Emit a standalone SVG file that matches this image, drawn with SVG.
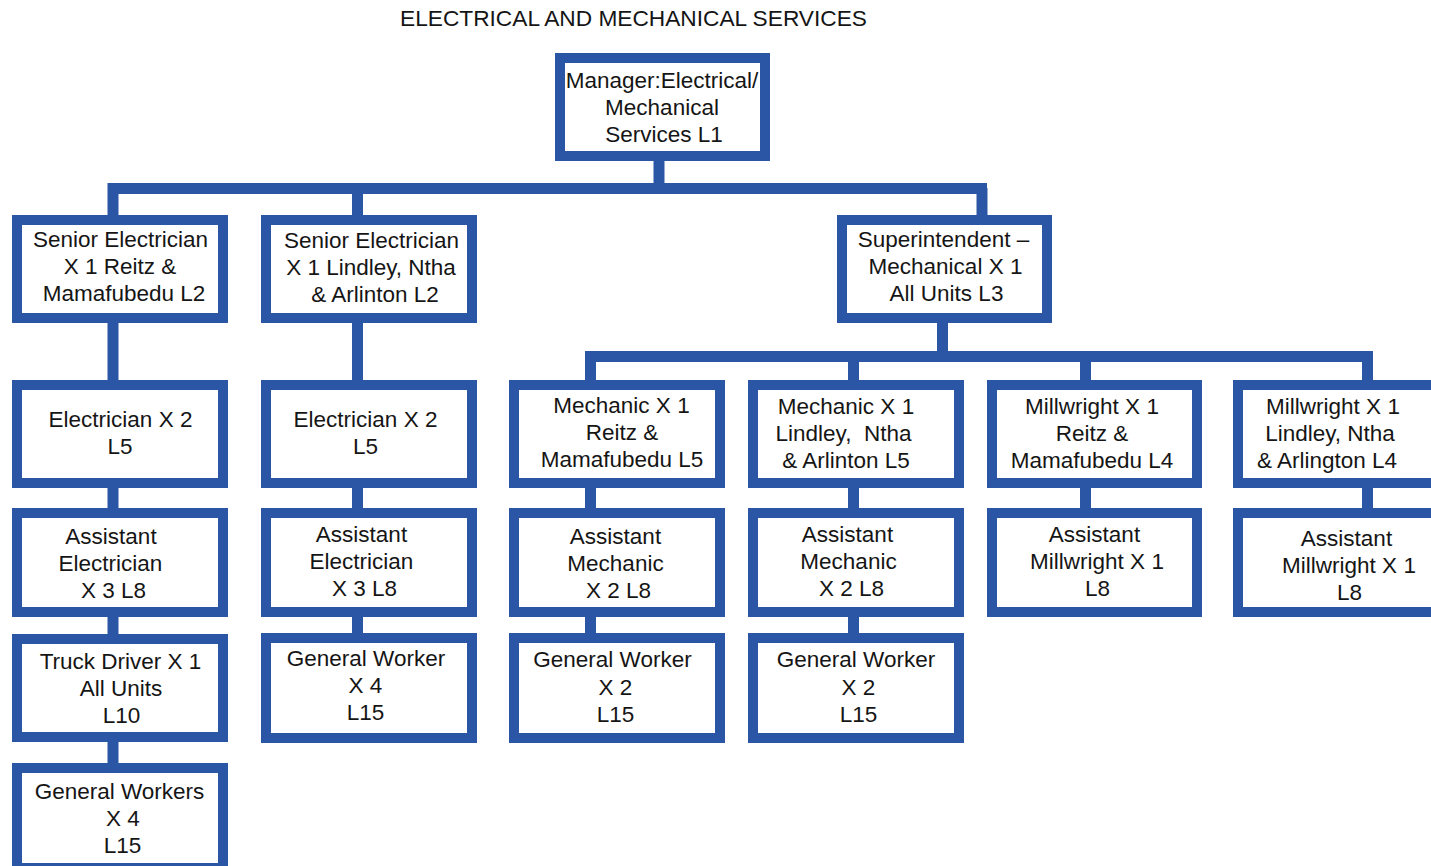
<svg xmlns="http://www.w3.org/2000/svg" width="1431" height="866" viewBox="0 0 1431 866">
  <style>
    .box { fill: #ffffff; stroke: #2A56A5; stroke-width: 10; }
    .link { fill: none; stroke: #2A56A5; stroke-width: 11; stroke-linecap: butt; }
    .lbl { font-family: "Liberation Sans", Arial, sans-serif; font-size: 22.5px; fill: #151515; text-anchor: middle; }
    .title { font-family: "Liberation Sans", Arial, sans-serif; font-size: 22.7px; fill: #151515; text-anchor: middle; }
  </style>
  <rect width="1431" height="866" fill="#ffffff"/>

  <text class="title" x="633.5" y="26">ELECTRICAL AND MECHANICAL SERVICES</text>

  <!-- connectors -->
  <g id="connectors">
    <path class="link" d="M659,161 V189"/>
    <path class="link" d="M108,188.5 H987"/>
    <path class="link" d="M113,183 V763"/>
    <path class="link" d="M357.5,188 V633"/>
    <path class="link" d="M982,188 V215"/>
    <path class="link" d="M942.5,323 V357"/>
    <path class="link" d="M585,356.5 H1373"/>
    <path class="link" d="M590.5,351 V633"/>
    <path class="link" d="M853.5,356 V633"/>
    <path class="link" d="M1085.5,356 V508"/>
    <path class="link" d="M1367.5,351 V508"/>
  </g>

  <!-- top -->
  <g id="manager">
    <rect class="box" x="560" y="58" width="205" height="98"/>
    <text class="lbl" x="662" y="88">Manager:Electrical/</text>
    <text class="lbl" x="662" y="115">Mechanical</text>
    <text class="lbl" x="664" y="142">Services L1</text>
  </g>

  <!-- second level -->
  <g id="senior-electrician-reitz">
    <rect class="box" x="17" y="220" width="206" height="98"/>
    <text class="lbl" x="120.5" y="247">Senior Electrician</text>
    <text class="lbl" x="120" y="274">X 1 Reitz &amp;</text>
    <text class="lbl" x="124" y="301">Mamafubedu L2</text>
  </g>
  <g id="senior-electrician-lindley">
    <rect class="box" x="266" y="220" width="206" height="98"/>
    <text class="lbl" x="371.5" y="248">Senior Electrician</text>
    <text class="lbl" x="371" y="275">X 1 Lindley, Ntha</text>
    <text class="lbl" x="375" y="302">&amp; Arlinton L2</text>
  </g>
  <g id="superintendent">
    <rect class="box" x="842" y="220" width="205" height="98"/>
    <text class="lbl" x="943.5" y="247">Superintendent –</text>
    <text class="lbl" x="945.5" y="274">Mechanical X 1</text>
    <text class="lbl" x="946.5" y="301">All Units L3</text>
  </g>

  <!-- third level -->
  <g id="electrician-1">
    <rect class="box" x="17" y="385" width="206" height="98"/>
    <text class="lbl" x="120.5" y="427">Electrician X 2</text>
    <text class="lbl" x="120" y="454">L5</text>
  </g>
  <g id="electrician-2">
    <rect class="box" x="266" y="385" width="206" height="98"/>
    <text class="lbl" x="365.5" y="427">Electrician X 2</text>
    <text class="lbl" x="365.5" y="454">L5</text>
  </g>
  <g id="mechanic-reitz">
    <rect class="box" x="514" y="385" width="206" height="98"/>
    <text class="lbl" x="621.5" y="413">Mechanic X 1</text>
    <text class="lbl" x="622" y="440">Reitz &amp;</text>
    <text class="lbl" x="622" y="467">Mamafubedu L5</text>
  </g>
  <g id="mechanic-lindley">
    <rect class="box" x="753" y="385" width="206" height="98"/>
    <text class="lbl" x="846" y="414">Mechanic X 1</text>
    <text class="lbl" x="843.5" y="441" xml:space="preserve">Lindley,  Ntha</text>
    <text class="lbl" x="846" y="468">&amp; Arlinton L5</text>
  </g>
  <g id="millwright-reitz">
    <rect class="box" x="992" y="385" width="205" height="98"/>
    <text class="lbl" x="1092" y="414">Millwright X 1</text>
    <text class="lbl" x="1092" y="441">Reitz &amp;</text>
    <text class="lbl" x="1092" y="468">Mamafubedu L4</text>
  </g>
  <g id="millwright-lindley">
    <rect class="box" x="1238" y="385" width="206" height="98"/>
    <text class="lbl" x="1333" y="414">Millwright X 1</text>
    <text class="lbl" x="1330" y="441">Lindley, Ntha</text>
    <text class="lbl" x="1327" y="468">&amp; Arlington L4</text>
  </g>

  <!-- assistants -->
  <g id="assistant-electrician-1">
    <rect class="box" x="17" y="513" width="206" height="99"/>
    <text class="lbl" x="111" y="544">Assistant</text>
    <text class="lbl" x="110.5" y="571">Electrician</text>
    <text class="lbl" x="113.5" y="598">X 3 L8</text>
  </g>
  <g id="assistant-electrician-2">
    <rect class="box" x="266" y="513" width="206" height="99"/>
    <text class="lbl" x="361.5" y="542">Assistant</text>
    <text class="lbl" x="361.5" y="569">Electrician</text>
    <text class="lbl" x="364.5" y="596">X 3 L8</text>
  </g>
  <g id="assistant-mechanic-1">
    <rect class="box" x="514" y="513" width="206" height="99"/>
    <text class="lbl" x="615.5" y="544">Assistant</text>
    <text class="lbl" x="615.5" y="571">Mechanic</text>
    <text class="lbl" x="618.5" y="598">X 2 L8</text>
  </g>
  <g id="assistant-mechanic-2">
    <rect class="box" x="753" y="513" width="206" height="99"/>
    <text class="lbl" x="847.5" y="542">Assistant</text>
    <text class="lbl" x="848.5" y="569">Mechanic</text>
    <text class="lbl" x="851.5" y="596">X 2 L8</text>
  </g>
  <g id="assistant-millwright-1">
    <rect class="box" x="992" y="513" width="205" height="99"/>
    <text class="lbl" x="1094.5" y="542">Assistant</text>
    <text class="lbl" x="1097" y="569">Millwright X 1</text>
    <text class="lbl" x="1097.5" y="596">L8</text>
  </g>
  <g id="assistant-millwright-2">
    <rect class="box" x="1238" y="513" width="206" height="99"/>
    <text class="lbl" x="1346.5" y="546">Assistant</text>
    <text class="lbl" x="1349" y="573">Millwright X 1</text>
    <text class="lbl" x="1349.5" y="600">L8</text>
  </g>

  <!-- fourth level -->
  <g id="truck-driver">
    <rect class="box" x="17" y="639" width="206" height="98"/>
    <text class="lbl" x="120.5" y="669">Truck Driver X 1</text>
    <text class="lbl" x="121" y="696">All Units</text>
    <text class="lbl" x="121.5" y="723">L10</text>
  </g>
  <g id="general-worker-electrical">
    <rect class="box" x="266" y="638" width="206" height="100"/>
    <text class="lbl" x="366" y="666">General Worker</text>
    <text class="lbl" x="365.5" y="693">X 4</text>
    <text class="lbl" x="365.5" y="720">L15</text>
  </g>
  <g id="general-worker-mech-1">
    <rect class="box" x="514" y="638" width="206" height="100"/>
    <text class="lbl" x="612.5" y="667">General Worker</text>
    <text class="lbl" x="615.5" y="695">X 2</text>
    <text class="lbl" x="615.5" y="722">L15</text>
  </g>
  <g id="general-worker-mech-2">
    <rect class="box" x="753" y="638" width="206" height="100"/>
    <text class="lbl" x="856" y="667">General Worker</text>
    <text class="lbl" x="858.5" y="695">X 2</text>
    <text class="lbl" x="858.5" y="722">L15</text>
  </g>

  <!-- fifth level -->
  <g id="general-workers">
    <rect class="box" x="17" y="768" width="206" height="100"/>
    <text class="lbl" x="119.5" y="799">General Workers</text>
    <text class="lbl" x="123" y="826">X 4</text>
    <text class="lbl" x="122.5" y="853">L15</text>
  </g>
</svg>
